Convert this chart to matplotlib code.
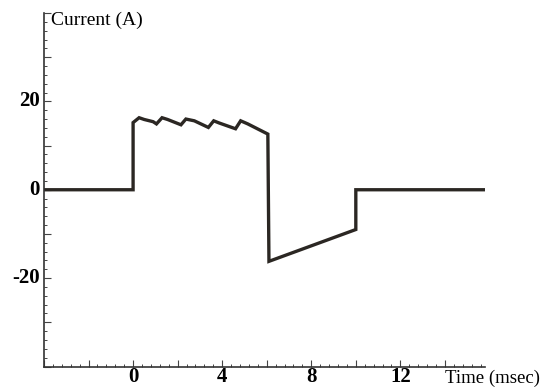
import matplotlib.pyplot as plt
from matplotlib.ticker import MultipleLocator

# Current waveform
time_ms = [-4, 0, 0, 0.27, 0.5, 0.9, 1.05, 1.3, 1.55, 2.15, 2.37, 2.75, 3.38,
           3.62, 3.87, 4.6, 4.83, 5.15, 6.05, 6.1, 10.0, 10.0, 16]
current_a = [0, 0, 15.2, 16.3, 15.9, 15.4, 14.9, 16.3, 15.9, 14.7, 16.0, 15.6,
             14.1, 15.6, 15.1, 13.8, 15.6, 14.9, 12.6, -16.2, -9.0, 0, 0]

x_ticks = [0, 4, 8, 12]
y_ticks = [-20, 0, 20]

plt.rcParams['font.family'] = 'Liberation Serif'

fig = plt.figure(figsize=(5.42, 3.87), dpi=100)
ax = fig.add_axes([44 / 542, 1 - 366.5 / 387, (485 - 44) / 542, (366.5 - 13) / 387])

ax.plot(time_ms, current_a, color='#2b2723', linewidth=2.4, solid_joinstyle='miter')

ax.set_xlim(-4, 15.8)
ax.set_ylim(-40, 40)

ax.spines['top'].set_visible(False)
ax.spines['right'].set_visible(False)
for s in ('left', 'bottom'):
    ax.spines[s].set_linewidth(1.2)
    ax.spines[s].set_color('#333333')

# unlabelled major/minor ticks, numbers placed as text below
ax.xaxis.set_major_locator(MultipleLocator(2))
ax.xaxis.set_minor_locator(MultipleLocator(0.4))
ax.yaxis.set_major_locator(MultipleLocator(10))
ax.yaxis.set_minor_locator(MultipleLocator(2))
ax.set_xticklabels([])
ax.set_yticklabels([])
ax.tick_params(which='major', direction='in', length=5, width=0.8, color='#444444')
ax.tick_params(which='minor', direction='in', length=2.5, width=0.7, color='#444444')

for xv in x_ticks:
    ax.text(xv, -44.55, str(xv), ha='center', va='bottom',
            fontsize=15, fontweight='bold', clip_on=False)
for yv in y_ticks:
    ax.text(-4.2, yv, str(yv), ha='right', va='center', fontsize=15, fontweight='bold')

ax.text(-3.68, 37.4, 'Current (A)', ha='left', va='baseline', fontsize=14)
ax.text(14.0, -44.55, 'Time (msec)', ha='left', va='bottom', fontsize=13.5, clip_on=False)

fig.savefig('out.png', dpi=100)
